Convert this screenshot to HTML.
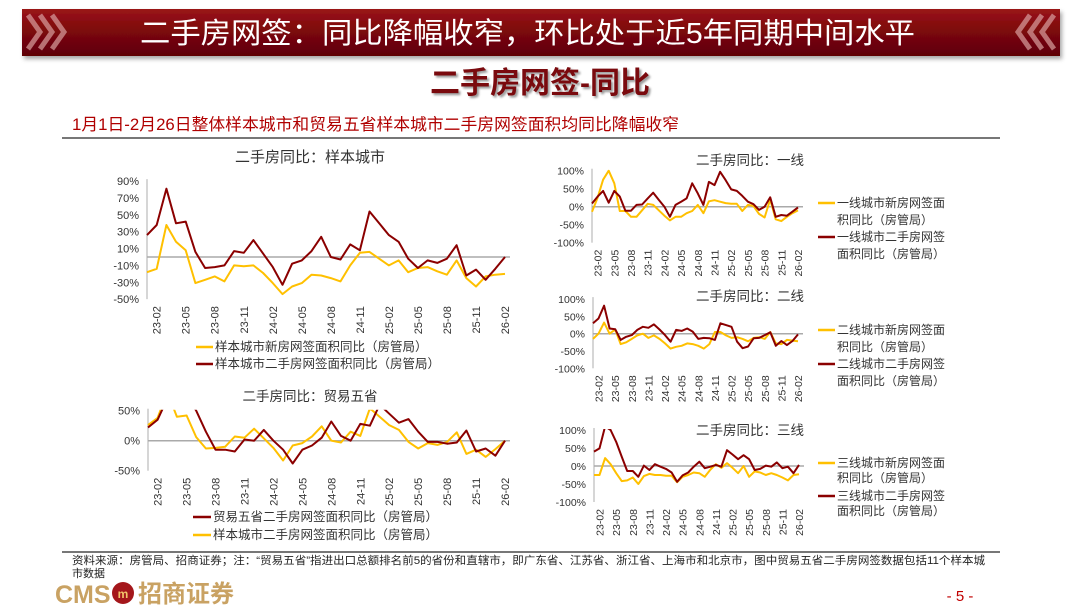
<!DOCTYPE html>
<html><head><meta charset="utf-8">
<style>
html,body{margin:0;padding:0;background:#fff;}
body{width:1080px;height:608px;overflow:hidden;font-family:"Liberation Sans","Noto Sans CJK SC",sans-serif;}
svg text{font-family:"Liberation Sans","Noto Sans CJK SC",sans-serif;}
</style></head>
<body>
<svg id="page" width="1080" height="608" viewBox="0 0 1080 608">
<defs>
<linearGradient id="hdr" x1="0" y1="0" x2="0" y2="1">
<stop offset="0" stop-color="#9a1418"/><stop offset="0.5" stop-color="#7a070b"/><stop offset="1" stop-color="#5e0306"/>
</linearGradient>
<filter id="sh" x="-5%" y="-20%" width="110%" height="160%"><feDropShadow dx="2" dy="3" stdDeviation="2" flood-color="#000" flood-opacity="0.35"/></filter>
</defs>
<g>
<rect x="22" y="9" width="1038" height="47" fill="url(#hdr)" filter="url(#sh)"/>
<path d="M28 15 l12 17 l-12 17 M40 15 l12 17 l-12 17 M52 15 l12 17 l-12 17" stroke="#d9a0a0" stroke-width="5" fill="none" opacity="0.7"/>
<path d="M1054 15 l-12 17 l12 17 M1042 15 l-12 17 l12 17 M1030 15 l-12 17 l12 17" stroke="#d9a0a0" stroke-width="5" fill="none" opacity="0.7"/>
<text x="140" y="43" textLength="775" lengthAdjust="spacingAndGlyphs" font-size="29" fill="#fff">二手房网签：同比降幅收窄，环比处于近5年同期中间水平</text>
</g>
<text x="540" y="93" text-anchor="middle" font-size="30" font-weight="bold" fill="#7a0a0e" style="text-shadow:2px 2px 2px #999">二手房网签-同比</text>
<text x="72" y="130" textLength="607" lengthAdjust="spacingAndGlyphs" font-size="16.5" fill="#b00000">1月1日-2月26日整体样本城市和贸易五省样本城市二手房网签面积均同比降幅收窄</text>
<line x1="62" y1="138" x2="1000" y2="138" stroke="#777" stroke-width="2"/>
<line x1="62" y1="552" x2="1000" y2="552" stroke="#777" stroke-width="2"/>
<text x="72" y="564" textLength="913" lengthAdjust="spacingAndGlyphs" font-size="11" fill="#222">资料来源：房管局、招商证券；注：“贸易五省”指进出口总额排名前5的省份和直辖市，即广东省、江苏省、浙江省、上海市和北京市，图中贸易五省二手房网签数据包括11个样本城</text>
<text x="72" y="577" font-size="11" fill="#222">市数据</text>
<g>
<text x="55" y="603" font-size="25" fill="#c9a263" font-weight="bold">CMS</text>
<circle cx="123" cy="593" r="11" fill="#a4171b"/>
<text x="123" y="598" font-size="12" fill="#f2c46a" text-anchor="middle" font-weight="bold">m</text>
<text x="138" y="602" font-size="24" fill="#c9a263" font-weight="bold">招商证券</text>
</g>
<text x="960" y="601" font-size="15" fill="#c00000" text-anchor="middle">- 5 -</text>
<g id="charts"></g>
</svg>
<script>
const months = ["23-02","23-05","23-08","23-11","24-02","24-05","24-08","24-11","25-02","25-05","25-08","25-11","26-02"];
const sampleNew = [-18,-14,38,18,8,-31,-27,-23,-29,-10,-11,-10,-19,-31,-44,-35,-31,-21,-22,-25,-29,-10,5,6,-2,-10,-4,-18,-13,-12,-17,-21,-4,-25,-35,-23,-21,-20];
const sampleSecond = [26,38,81,40,42,6,-13,-12,-10,7,5,20,4,-12,-33,-8,-4,7,24,0,-3,15,8,54,40,26,18,-2,-13,-4,-7,-2,14,-22,-15,-27,-14,0];
const tradeSecond = [22,35,70,80,75,50,15,-15,-15,-18,2,0,18,0,-15,-38,-15,-8,5,32,8,0,28,25,60,45,30,36,15,-2,-2,-5,-3,17,-18,-13,-25,0];
const tier1New = [-14,25,75,100,65,-12,-12,-28,-28,-10,8,5,-10,-25,-38,-28,-28,-18,-12,5,-18,15,18,14,10,8,8,-12,5,2,-20,-30,20,-35,-40,-28,-18,-10];
const tier1Second = [9,28,44,11,44,28,-11,-11,5,6,23,39,19,0,-28,5,14,23,65,37,5,69,60,97,74,48,44,30,14,7,-9,0,26,-28,-23,-25,-14,-2];
const tier2New = [-15,0,32,0,12,-30,-25,-15,-5,0,-12,-5,-15,-28,-43,-38,-35,-28,-30,-35,-43,-30,5,5,-5,-12,-10,-15,-22,-12,-10,-15,5,-28,-30,-18,-20,-22];
const tier2Second = [30,44,81,15,13,-18,-9,-4,11,20,17,27,12,-4,-23,11,8,15,6,-15,-12,-13,-18,30,25,20,-23,-42,-37,-13,-12,-4,4,-35,-21,-33,-21,-2];
const tier3New = [-25,-25,22,5,-20,-42,-40,-32,-50,-28,-22,-25,-25,-27,-27,-45,-30,-25,-18,-20,-30,-10,5,-5,8,-5,-20,0,-30,-15,-18,-25,-20,-25,-32,-40,-25,-23];
const tier3Second = [40,49,110,100,67,26,-14,-14,-30,1,-11,5,-2,-8,-18,-44,-26,-18,-2,12,-6,-2,3,-2,44,32,19,30,19,-11,-8,1,-2,10,-6,-2,-20,3];
const YEL = "#ffc000", RED = "#8b0000";
const NS = "http://www.w3.org/2000/svg";
const root = document.getElementById("charts");
function mk(tag, attrs, parent){const e=document.createElementNS(NS,tag);for(const k in attrs)e.setAttribute(k,attrs[k]);parent.appendChild(e);return e;}
let clipId = 0;
function drawChart(c){
  const g = mk("g",{},root);
  
  
  const yS = v => c.zeroY - v*c.k;
  const n = c.series[0].data.length;
  const xS = i => c.x0 + i*(c.x1-c.x0)/(n-1);
  const top = yS(c.ticks[0]), bot = yS(c.ticks[c.ticks.length-1]);
  const t = mk("text",{x:c.titleX,y:c.titleY,"text-anchor":"middle","font-size":c.titleSize,fill:"#333"},g);
  t.textContent = c.title;
  
  
  c.ticks.forEach(v=>{
    const tt = mk("text",{x:c.x0-8,y:yS(v)+4,"text-anchor":"end","font-size":c.fs,fill:"#333"},g);
    tt.textContent = v+"%";
    
    
  });
  const ax = mk("line",{x1:c.x0,y1:top-2,x2:c.x0,y2:bot,stroke:"#bbb","stroke-width":1.2},g);
  
  
  const zl = mk("line",{x1:c.x0,y1:c.zeroY,x2:c.x1+5,y2:c.zeroY,stroke:"#aaa","stroke-width":1.5},g);
  
  
  months.forEach((m,j)=>{
    const xi = xS(1+3*j);
    const xt = mk("text",{transform:`translate(${xi+4},${bot+7}) rotate(-90)`,"text-anchor":"end","font-size":c.fs,fill:"#333"},g);
    xt.textContent = m;
    
    
  });
  const id = "clip"+(clipId++);
  const cp = mk("clipPath",{id:id},g);
  mk("rect",{x:c.x0-2,y:top-1,width:c.x1-c.x0+10,height:bot-top+20},cp);
  c.series.forEach(s=>{
    const d = s.data.map((v,i)=>(i?"L":"M")+xS(i).toFixed(1)+" "+yS(v).toFixed(1)).join(" ");
    const p = mk("path",{d:d,fill:"none",stroke:s.color,"stroke-width":c.sw,"stroke-linejoin":"round","clip-path":`url(#${id})`},g);
    
    
  });
  c.legend.forEach(L=>{
    const lg = mk("g",{},g);
    
    
    mk("line",{x1:L.x,y1:L.y,x2:L.x+L.w,y2:L.y,stroke:L.color,"stroke-width":2.5},lg);
    L.lines.forEach((txt,k)=>{
      const tx = mk("text",{x:L.x+L.w+2,y:L.y+4+k*(c.lsp||17),"font-size":c.lfs,fill:"#333"},lg);
      tx.textContent = txt;
    });
  });
}
drawChart({name:"chart-sample-cities",title:"二手房同比：样本城市",titleX:310,titleY:162,titleSize:15,x0:147,x1:505,zeroY:257,k:0.843,ticks:[90,70,50,30,10,-10,-30,-50],fs:11,lfs:12.5,sw:2,
  series:[{key:"series-sample-new",color:YEL,data:sampleNew},{key:"series-sample-second",color:RED,data:sampleSecond}],
  legend:[{x:196,y:347,w:17,color:YEL,lines:["样本城市新房网签面积同比（房管局）"]},{x:196,y:364,w:17,color:RED,lines:["样本城市二手房网签面积同比（房管局）"]}]});
drawChart({name:"chart-trade-five",title:"二手房同比：贸易五省",titleX:310,titleY:401,titleSize:13.5,x0:148,x1:505,zeroY:440.7,k:0.6,ticks:[50,0,-50],fs:11,lfs:12.5,sw:2,
  series:[{key:"series-sample-second",color:YEL,data:sampleSecond},{key:"series-trade-second",color:RED,data:tradeSecond}],
  legend:[{x:193,y:517,w:18,color:RED,lines:["贸易五省二手房网签面积同比（房管局）"]},{x:193,y:535,w:18,color:YEL,lines:["样本城市二手房网签面积同比（房管局）"]}]});
drawChart({name:"chart-tier1",title:"二手房同比：一线",titleX:750,titleY:165,titleSize:13.5,x0:592,x1:798,zeroY:206.7,k:0.36,ticks:[100,50,0,-50,-100],fs:10.5,lfs:12,sw:2,lsp:17,
  series:[{key:"series-tier1-new",color:YEL,data:tier1New},{key:"series-tier1-second",color:RED,data:tier1Second}],
  legend:[{x:818,y:203,w:17,color:YEL,lines:["一线城市新房网签面","积同比（房管局）"]},{x:818,y:237,w:17,color:RED,lines:["一线城市二手房网签","面积同比（房管局）"]}]});
drawChart({name:"chart-tier2",title:"二手房同比：二线",titleX:750,titleY:301,titleSize:13.5,x0:593,x1:798,zeroY:333.7,k:0.346,ticks:[100,50,0,-50,-100],fs:10.5,lfs:12,sw:2,lsp:17,
  series:[{key:"series-tier2-new",color:YEL,data:tier2New},{key:"series-tier2-second",color:RED,data:tier2Second}],
  legend:[{x:818,y:330,w:17,color:YEL,lines:["二线城市新房网签面","积同比（房管局）"]},{x:818,y:364,w:17,color:RED,lines:["二线城市二手房网签","面积同比（房管局）"]}]});
drawChart({name:"chart-tier3",title:"二手房同比：三线",titleX:750,titleY:435,titleSize:13.5,x0:594,x1:799,zeroY:466,k:0.36,ticks:[100,50,0,-50,-100],fs:10.5,lfs:12,sw:2,lsp:15,
  series:[{key:"series-tier3-new",color:YEL,data:tier3New},{key:"series-tier3-second",color:RED,data:tier3Second}],
  legend:[{x:818,y:463,w:17,color:YEL,lines:["三线城市新房网签面","积同比（房管局）"]},{x:818,y:496,w:17,color:RED,lines:["三线城市二手房网签","面积同比（房管局）"]}]});
</script>
</body></html>
